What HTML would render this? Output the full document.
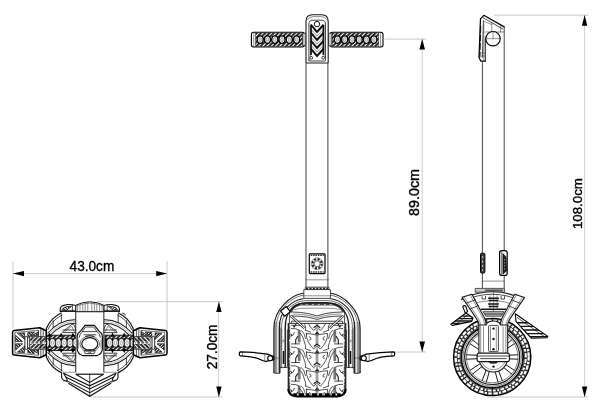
<!DOCTYPE html>
<html>
<head>
<meta charset="utf-8">
<title>Dimensions</title>
<style>
html,body{margin:0;padding:0;background:#fff;}
body{width:616px;height:412px;overflow:hidden;font-family:"Liberation Sans",sans-serif;}
svg{display:block;filter:grayscale(1);}
.dim{stroke:#bcbcbc;stroke-width:0.8;fill:none;}
.dimv{stroke:#b0b0b0;stroke-width:0.6;fill:none;}
.ah{fill:#000;stroke:none;}
.t{font-family:"Liberation Sans",sans-serif;fill:#000;stroke:#000;stroke-width:0.35;}
.l{stroke:#1a1a1a;stroke-width:0.8;fill:none;stroke-linejoin:round;stroke-linecap:round;}
.lt{stroke:#333;stroke-width:0.55;fill:none;stroke-linejoin:round;stroke-linecap:round;}
.lg{stroke:#777;stroke-width:0.6;fill:none;stroke-linejoin:round;stroke-linecap:round;}
.lw{stroke:#1a1a1a;stroke-width:0.8;fill:#fff;stroke-linejoin:round;}
.lf{stroke:#1a1a1a;stroke-width:0.7;fill:#c8c8c8;stroke-linejoin:round;}
.k{fill:#111;stroke:none;}
.kk{stroke:#111;fill:none;stroke-linejoin:miter;}
</style>
</head>
<body>
<svg width="616" height="412" viewBox="0 0 616 412">
<defs>
<pattern id="hx" width="3" height="3" patternUnits="userSpaceOnUse" patternTransform="rotate(45)">
<rect width="3" height="3" fill="#fff"/><rect width="1.9" height="3" fill="#222"/>
</pattern>
<pattern id="hy" width="2.2" height="2.2" patternUnits="userSpaceOnUse" patternTransform="rotate(-45)">
<rect width="2.2" height="2.2" fill="#fff"/><rect width="1.0" height="2.2" fill="#222"/>
</pattern>
<pattern id="hz" width="2.2" height="2.2" patternUnits="userSpaceOnUse" patternTransform="rotate(-45)">
<rect width="2.2" height="2.2" fill="#fff"/><rect width="1.3" height="2.2" fill="#111"/>
</pattern>
</defs>
<rect width="616" height="412" fill="#fff"/>
<!-- DIMENSIONS -->
<g id="dims">
  <!-- 43.0cm -->
  <path class="dim" d="M13 261.2V328 M167 261.2V330 M13 273.6H167"/>
  <path class="ah" d="M12.9 273.6L24 270.9V276.3Z M167.1 273.6L156.2 270.9V276.3Z"/>
  <text class="t" transform="translate(91.9 271.4) scale(0.94 1)" font-size="14.5" text-anchor="middle">43.0cm</text>
  <!-- 27.0cm -->
  <path class="dim" d="M97 301.6H222.5 M91 397H222.5"/><path class="dimv" d="M218.6 301.7V397"/>
  <path class="ah" d="M218.9 301.5L216.2 312H221.6Z M218.9 397.2L216.2 386.5H221.6Z"/>
  <text class="t" transform="translate(216.9 346.9) rotate(-90) scale(0.94 1)" font-size="14.5" text-anchor="middle">27.0cm</text>
  <!-- 89.0cm -->
  <path class="dim" d="M384.5 39.1H426 M395 352H426"/><path class="dimv" d="M422.2 39V352"/>
  <path class="ah" d="M422.2 38.9L419.4 49.6H425Z M422.2 352.2L419.4 341.4H425Z"/>
  <text class="t" transform="translate(418.8 192.5) rotate(-90)" font-size="14.3" text-anchor="middle">89.0cm</text>
  <!-- 108.0cm -->
  <path class="dim" d="M494 15.2H588.5 M487 397H588.5"/><path class="dimv" d="M584.6 15.2V397"/>
  <path class="ah" d="M584.6 15L581.9 25.8H587.3Z M584.6 397.2L581.9 386.5H587.3Z"/>
  <text class="t" transform="translate(582.4 203.6) rotate(-90)" font-size="13.3" text-anchor="middle">108.0cm</text>
</g>
<!-- FRONT VIEW -->
<g id="front">
<rect x="251.4" y="32.3" width="53.0" height="14.7" rx="2.2" fill="#fff" stroke="#000" stroke-width="1.1"/>
<path class="lt" d="M253.8 32.3V47.0"/>
<rect x="255.6" y="32.9" width="46.8" height="13.5" fill="url(#hx)" stroke="#222" stroke-width="0.5"/>
<ellipse cx="260.2" cy="39.6" rx="3.0" ry="3.8" fill="#fff" stroke="#000" stroke-width="1.3"/>
<ellipse cx="260.2" cy="39.6" rx="1.3" ry="2.0" fill="#ddd" stroke="#666" stroke-width="0.5"/>
<ellipse cx="267.5" cy="39.6" rx="3.0" ry="3.8" fill="#fff" stroke="#000" stroke-width="1.3"/>
<ellipse cx="267.5" cy="39.6" rx="1.3" ry="2.0" fill="#ddd" stroke="#666" stroke-width="0.5"/>
<ellipse cx="274.8" cy="39.6" rx="3.0" ry="3.8" fill="#fff" stroke="#000" stroke-width="1.3"/>
<ellipse cx="274.8" cy="39.6" rx="1.3" ry="2.0" fill="#ddd" stroke="#666" stroke-width="0.5"/>
<ellipse cx="282.0" cy="39.6" rx="3.0" ry="3.8" fill="#fff" stroke="#000" stroke-width="1.3"/>
<ellipse cx="282.0" cy="39.6" rx="1.3" ry="2.0" fill="#ddd" stroke="#666" stroke-width="0.5"/>
<ellipse cx="289.3" cy="39.6" rx="3.0" ry="3.8" fill="#fff" stroke="#000" stroke-width="1.3"/>
<ellipse cx="289.3" cy="39.6" rx="1.3" ry="2.0" fill="#ddd" stroke="#666" stroke-width="0.5"/>
<ellipse cx="296.6" cy="39.6" rx="3.0" ry="3.8" fill="#fff" stroke="#000" stroke-width="1.3"/>
<ellipse cx="296.6" cy="39.6" rx="1.3" ry="2.0" fill="#ddd" stroke="#666" stroke-width="0.5"/>
<rect x="330.0" y="32.3" width="53.0" height="14.7" rx="2.2" fill="#fff" stroke="#000" stroke-width="1.1"/>
<path class="lt" d="M380.6 32.3V47.0"/>
<rect x="332.0" y="32.9" width="46.8" height="13.5" fill="url(#hx)" stroke="#222" stroke-width="0.5"/>
<ellipse cx="337.4" cy="39.6" rx="3.0" ry="3.8" fill="#fff" stroke="#000" stroke-width="1.3"/>
<ellipse cx="337.4" cy="39.6" rx="1.3" ry="2.0" fill="#ddd" stroke="#666" stroke-width="0.5"/>
<ellipse cx="344.7" cy="39.6" rx="3.0" ry="3.8" fill="#fff" stroke="#000" stroke-width="1.3"/>
<ellipse cx="344.7" cy="39.6" rx="1.3" ry="2.0" fill="#ddd" stroke="#666" stroke-width="0.5"/>
<ellipse cx="352.0" cy="39.6" rx="3.0" ry="3.8" fill="#fff" stroke="#000" stroke-width="1.3"/>
<ellipse cx="352.0" cy="39.6" rx="1.3" ry="2.0" fill="#ddd" stroke="#666" stroke-width="0.5"/>
<ellipse cx="359.2" cy="39.6" rx="3.0" ry="3.8" fill="#fff" stroke="#000" stroke-width="1.3"/>
<ellipse cx="359.2" cy="39.6" rx="1.3" ry="2.0" fill="#ddd" stroke="#666" stroke-width="0.5"/>
<ellipse cx="366.5" cy="39.6" rx="3.0" ry="3.8" fill="#fff" stroke="#000" stroke-width="1.3"/>
<ellipse cx="366.5" cy="39.6" rx="1.3" ry="2.0" fill="#ddd" stroke="#666" stroke-width="0.5"/>
<ellipse cx="373.8" cy="39.6" rx="3.0" ry="3.8" fill="#fff" stroke="#000" stroke-width="1.3"/>
<ellipse cx="373.8" cy="39.6" rx="1.3" ry="2.0" fill="#ddd" stroke="#666" stroke-width="0.5"/>
<rect class="lf" x="302.6" y="33.2" width="3.6" height="12.4" rx="1"/>
<rect class="lf" x="328.2" y="33.2" width="3.6" height="12.4" rx="1"/>
<path class="lw" style="stroke-width:1.1" d="M306 62.4V21.5Q306 14.7 312.5 14.7H321.7Q328.2 14.7 328.2 21.5V62.4Q328.2 63 327.3 63H306.9Q306 63 306 62.4Z"/>
<path class="lt" d="M307.6 19.5Q309 16.6 313 16.6H321.4Q325.4 16.6 326.8 19.5"/>
<path class="l" d="M308.9 60.2V24Q308.9 20.2 313 20.2H321.4Q325.5 20.2 325.5 24V60.2Q325.5 61 324.6 61H309.8Q308.9 61 308.9 60.2Z"/>
<path class="lt" d="M310.4 25V56.5 M324 25V56.5"/>
<path class="k" d="M310.2 25.5H311.9V55H310.2Z M322.5 25.5H324.2V55H322.5Z"/>
<path class="kk" stroke-width="2.0" d="M310.8 24.7L317.0 31.9L323.6 24.7"/>
<path class="kk" stroke-width="2.0" d="M310.8 32.7L317.0 39.9L323.6 32.7"/>
<path class="kk" stroke-width="2.0" d="M310.8 40.7L317.0 47.9L323.6 40.7"/>
<path class="kk" stroke-width="2.0" d="M310.8 48.7L317.0 55.9L323.6 48.7"/>
<path class="lt" d="M311.6 29.8L317.0 36.0L322.8 29.8"/>
<path class="lt" d="M311.6 37.8L317.0 44.0L322.8 37.8"/>
<path class="lt" d="M311.6 45.8L317.0 52.0L322.8 45.8"/>
<circle cx="317.0" cy="24.1" r="2.7" fill="#fff" stroke="#111" stroke-width="1"/>
<circle cx="311.2" cy="57.8" r="1.4" fill="#fff" stroke="#111" stroke-width="0.8"/>
<circle cx="323.2" cy="57.8" r="1.4" fill="#fff" stroke="#111" stroke-width="0.8"/>
<path d="M306 63V287.2 M327.9 63V287.2" stroke="#2a2a2a" stroke-width="0.9" fill="none"/>
<path class="lt" d="M305.9 279.8H328.5"/>
<rect x="309.3" y="253.8" width="15.7" height="19.8" rx="0.8" fill="#fff" stroke="#000" stroke-width="1.2"/>
<path d="M310.6 255.4H323.8 M310.6 272H323.8" stroke="#333" stroke-width="1.3" stroke-dasharray="1.6 0.8"/>
<circle cx="317.1" cy="263.7" r="4.6" fill="none" stroke="#222" stroke-width="2.2" stroke-dasharray="2.1 1.5"/>
<circle cx="317.1" cy="263.7" r="5.9" fill="none" stroke="#333" stroke-width="0.5"/>
<circle cx="317.1" cy="263.7" r="3" fill="#fff" stroke="#222" stroke-width="0.7"/>
<path class="lw" d="M305.3 287.2H328.9V289.6H305.3Z"/>
<path d="M306 288.4H328.2" stroke="#222" stroke-width="1.2" stroke-dasharray="2.2 1.2"/>
<path class="lw" d="M303.8 289.6H330.4V298.4H303.8Z"/>
<path class="lt" d="M303.8 295.8H330.4"/>
<clipPath id="tc"><path d="M288.3 321V391Q290.3 396 297.3 397H336.7Q343.7 396 345.7 391V321Z"/></clipPath>
<path d="M288.3 321V391Q290.3 396 297.3 397H336.7Q343.7 396 345.7 391V321Z" fill="#fff" stroke="none"/>
<g clip-path="url(#tc)">
<g transform="translate(317.0 314.9)" fill="none" stroke="#1a1a1a" stroke-width="0.75" stroke-linejoin="round" stroke-linecap="round">
<path d="M-10.6 0Q-5 0.3 0 1.6Q5 0.3 10.6 0Q10.9 4 8.8 8.3Q7 12 3.4 15.5L0 12.6L-3.4 15.5Q-7 12 -8.8 8.3Q-10.9 4 -10.6 0Z"/>
<path d="M0 10.7L-2.9 12.7M0 10.7L2.9 12.7" stroke-width="1.2"/>
<path d="M-0.8 2V10.4 M0.8 2V10.4" stroke-width="0.6"/>
<path d="M0 -1.4L-1.6 0.4H1.6Z M0 -1.4V-4" fill="#111"/>
<g transform="scale(1 1)">
<path d="M-7.6 3.2q1.8 0.4 1.6 2.4q-0.3 1.2 -1.4 0.8"/>
<path d="M-17.6 -1C-14.2 1.5 -13.6 5.5 -12.6 8.6S-10.8 12.6 -11.6 15.2"/>
<path d="M-15.6 -3C-12.4 -0.5 -12.2 3 -11.6 5"/>
<path d="M-11.6 15.2Q-9 16.5 -6.4 17.2"/>
<path d="M-21.3 6.2L-19.4 3M-21.3 6.2V10.2" stroke-width="1.1"/>
<path d="M-25.6 10.4H-17.4 M-25.6 13.6Q-21 13.2 -17.4 15.4"/>
<path d="M-25.8 2.6Q-23 2 -22.6 -1"/>
<path d="M-17.8 15.6V27" stroke="#888" stroke-width="1.3"/>
<path d="M-18.7 15.6V27 M-16.9 15.6V27" stroke-width="0.6"/>
<circle cx="-26.4" cy="1.6" r="1.1" fill="#fff" stroke-width="0.7"/>
<path d="M-27.4 -6V24" stroke-width="0.6" stroke-dasharray="5 2"/>
</g>
<g transform="scale(-1 1)">
<path d="M-7.6 3.2q1.8 0.4 1.6 2.4q-0.3 1.2 -1.4 0.8"/>
<path d="M-17.6 -1C-14.2 1.5 -13.6 5.5 -12.6 8.6S-10.8 12.6 -11.6 15.2"/>
<path d="M-15.6 -3C-12.4 -0.5 -12.2 3 -11.6 5"/>
<path d="M-11.6 15.2Q-9 16.5 -6.4 17.2"/>
<path d="M-21.3 6.2L-19.4 3M-21.3 6.2V10.2" stroke-width="1.1"/>
<path d="M-25.6 10.4H-17.4 M-25.6 13.6Q-21 13.2 -17.4 15.4"/>
<path d="M-25.8 2.6Q-23 2 -22.6 -1"/>
<path d="M-17.8 15.6V27" stroke="#888" stroke-width="1.3"/>
<path d="M-18.7 15.6V27 M-16.9 15.6V27" stroke-width="0.6"/>
<circle cx="-26.4" cy="1.6" r="1.1" fill="#fff" stroke-width="0.7"/>
<path d="M-27.4 -6V24" stroke-width="0.6" stroke-dasharray="5 2"/>
</g>
</g>
<g transform="translate(317.0 333.5)" fill="none" stroke="#1a1a1a" stroke-width="0.75" stroke-linejoin="round" stroke-linecap="round">
<path d="M-10.6 0Q-5 0.3 0 1.6Q5 0.3 10.6 0Q10.9 4 8.8 8.3Q7 12 3.4 15.5L0 12.6L-3.4 15.5Q-7 12 -8.8 8.3Q-10.9 4 -10.6 0Z"/>
<path d="M0 10.7L-2.9 12.7M0 10.7L2.9 12.7" stroke-width="1.2"/>
<path d="M-0.8 2V10.4 M0.8 2V10.4" stroke-width="0.6"/>
<path d="M0 -1.4L-1.6 0.4H1.6Z M0 -1.4V-4" fill="#111"/>
<g transform="scale(1 1)">
<path d="M-7.6 3.2q1.8 0.4 1.6 2.4q-0.3 1.2 -1.4 0.8"/>
<path d="M-17.6 -1C-14.2 1.5 -13.6 5.5 -12.6 8.6S-10.8 12.6 -11.6 15.2"/>
<path d="M-15.6 -3C-12.4 -0.5 -12.2 3 -11.6 5"/>
<path d="M-11.6 15.2Q-9 16.5 -6.4 17.2"/>
<path d="M-21.3 6.2L-19.4 3M-21.3 6.2V10.2" stroke-width="1.1"/>
<path d="M-25.6 10.4H-17.4 M-25.6 13.6Q-21 13.2 -17.4 15.4"/>
<path d="M-25.8 2.6Q-23 2 -22.6 -1"/>
<path d="M-17.8 15.6V27" stroke="#888" stroke-width="1.3"/>
<path d="M-18.7 15.6V27 M-16.9 15.6V27" stroke-width="0.6"/>
<circle cx="-26.4" cy="1.6" r="1.1" fill="#fff" stroke-width="0.7"/>
<path d="M-27.4 -6V24" stroke-width="0.6" stroke-dasharray="5 2"/>
</g>
<g transform="scale(-1 1)">
<path d="M-7.6 3.2q1.8 0.4 1.6 2.4q-0.3 1.2 -1.4 0.8"/>
<path d="M-17.6 -1C-14.2 1.5 -13.6 5.5 -12.6 8.6S-10.8 12.6 -11.6 15.2"/>
<path d="M-15.6 -3C-12.4 -0.5 -12.2 3 -11.6 5"/>
<path d="M-11.6 15.2Q-9 16.5 -6.4 17.2"/>
<path d="M-21.3 6.2L-19.4 3M-21.3 6.2V10.2" stroke-width="1.1"/>
<path d="M-25.6 10.4H-17.4 M-25.6 13.6Q-21 13.2 -17.4 15.4"/>
<path d="M-25.8 2.6Q-23 2 -22.6 -1"/>
<path d="M-17.8 15.6V27" stroke="#888" stroke-width="1.3"/>
<path d="M-18.7 15.6V27 M-16.9 15.6V27" stroke-width="0.6"/>
<circle cx="-26.4" cy="1.6" r="1.1" fill="#fff" stroke-width="0.7"/>
<path d="M-27.4 -6V24" stroke-width="0.6" stroke-dasharray="5 2"/>
</g>
</g>
<g transform="translate(317.0 352.1)" fill="none" stroke="#1a1a1a" stroke-width="0.75" stroke-linejoin="round" stroke-linecap="round">
<path d="M-10.6 0Q-5 0.3 0 1.6Q5 0.3 10.6 0Q10.9 4 8.8 8.3Q7 12 3.4 15.5L0 12.6L-3.4 15.5Q-7 12 -8.8 8.3Q-10.9 4 -10.6 0Z"/>
<path d="M0 10.7L-2.9 12.7M0 10.7L2.9 12.7" stroke-width="1.2"/>
<path d="M-0.8 2V10.4 M0.8 2V10.4" stroke-width="0.6"/>
<path d="M0 -1.4L-1.6 0.4H1.6Z M0 -1.4V-4" fill="#111"/>
<g transform="scale(1 1)">
<path d="M-7.6 3.2q1.8 0.4 1.6 2.4q-0.3 1.2 -1.4 0.8"/>
<path d="M-17.6 -1C-14.2 1.5 -13.6 5.5 -12.6 8.6S-10.8 12.6 -11.6 15.2"/>
<path d="M-15.6 -3C-12.4 -0.5 -12.2 3 -11.6 5"/>
<path d="M-11.6 15.2Q-9 16.5 -6.4 17.2"/>
<path d="M-21.3 6.2L-19.4 3M-21.3 6.2V10.2" stroke-width="1.1"/>
<path d="M-25.6 10.4H-17.4 M-25.6 13.6Q-21 13.2 -17.4 15.4"/>
<path d="M-25.8 2.6Q-23 2 -22.6 -1"/>
<path d="M-17.8 15.6V27" stroke="#888" stroke-width="1.3"/>
<path d="M-18.7 15.6V27 M-16.9 15.6V27" stroke-width="0.6"/>
<circle cx="-26.4" cy="1.6" r="1.1" fill="#fff" stroke-width="0.7"/>
<path d="M-27.4 -6V24" stroke-width="0.6" stroke-dasharray="5 2"/>
</g>
<g transform="scale(-1 1)">
<path d="M-7.6 3.2q1.8 0.4 1.6 2.4q-0.3 1.2 -1.4 0.8"/>
<path d="M-17.6 -1C-14.2 1.5 -13.6 5.5 -12.6 8.6S-10.8 12.6 -11.6 15.2"/>
<path d="M-15.6 -3C-12.4 -0.5 -12.2 3 -11.6 5"/>
<path d="M-11.6 15.2Q-9 16.5 -6.4 17.2"/>
<path d="M-21.3 6.2L-19.4 3M-21.3 6.2V10.2" stroke-width="1.1"/>
<path d="M-25.6 10.4H-17.4 M-25.6 13.6Q-21 13.2 -17.4 15.4"/>
<path d="M-25.8 2.6Q-23 2 -22.6 -1"/>
<path d="M-17.8 15.6V27" stroke="#888" stroke-width="1.3"/>
<path d="M-18.7 15.6V27 M-16.9 15.6V27" stroke-width="0.6"/>
<circle cx="-26.4" cy="1.6" r="1.1" fill="#fff" stroke-width="0.7"/>
<path d="M-27.4 -6V24" stroke-width="0.6" stroke-dasharray="5 2"/>
</g>
</g>
<g transform="translate(317.0 370.7)" fill="none" stroke="#1a1a1a" stroke-width="0.75" stroke-linejoin="round" stroke-linecap="round">
<path d="M-10.6 0Q-5 0.3 0 1.6Q5 0.3 10.6 0Q10.9 4 8.8 8.3Q7 12 3.4 15.5L0 12.6L-3.4 15.5Q-7 12 -8.8 8.3Q-10.9 4 -10.6 0Z"/>
<path d="M0 10.7L-2.9 12.7M0 10.7L2.9 12.7" stroke-width="1.2"/>
<path d="M-0.8 2V10.4 M0.8 2V10.4" stroke-width="0.6"/>
<path d="M0 -1.4L-1.6 0.4H1.6Z M0 -1.4V-4" fill="#111"/>
<g transform="scale(1 1)">
<path d="M-7.6 3.2q1.8 0.4 1.6 2.4q-0.3 1.2 -1.4 0.8"/>
<path d="M-17.6 -1C-14.2 1.5 -13.6 5.5 -12.6 8.6S-10.8 12.6 -11.6 15.2"/>
<path d="M-15.6 -3C-12.4 -0.5 -12.2 3 -11.6 5"/>
<path d="M-11.6 15.2Q-9 16.5 -6.4 17.2"/>
<path d="M-21.3 6.2L-19.4 3M-21.3 6.2V10.2" stroke-width="1.1"/>
<path d="M-25.6 10.4H-17.4 M-25.6 13.6Q-21 13.2 -17.4 15.4"/>
<path d="M-25.8 2.6Q-23 2 -22.6 -1"/>
<path d="M-17.8 15.6V27" stroke="#888" stroke-width="1.3"/>
<path d="M-18.7 15.6V27 M-16.9 15.6V27" stroke-width="0.6"/>
<circle cx="-26.4" cy="1.6" r="1.1" fill="#fff" stroke-width="0.7"/>
<path d="M-27.4 -6V24" stroke-width="0.6" stroke-dasharray="5 2"/>
</g>
<g transform="scale(-1 1)">
<path d="M-7.6 3.2q1.8 0.4 1.6 2.4q-0.3 1.2 -1.4 0.8"/>
<path d="M-17.6 -1C-14.2 1.5 -13.6 5.5 -12.6 8.6S-10.8 12.6 -11.6 15.2"/>
<path d="M-15.6 -3C-12.4 -0.5 -12.2 3 -11.6 5"/>
<path d="M-11.6 15.2Q-9 16.5 -6.4 17.2"/>
<path d="M-21.3 6.2L-19.4 3M-21.3 6.2V10.2" stroke-width="1.1"/>
<path d="M-25.6 10.4H-17.4 M-25.6 13.6Q-21 13.2 -17.4 15.4"/>
<path d="M-25.8 2.6Q-23 2 -22.6 -1"/>
<path d="M-17.8 15.6V27" stroke="#888" stroke-width="1.3"/>
<path d="M-18.7 15.6V27 M-16.9 15.6V27" stroke-width="0.6"/>
<circle cx="-26.4" cy="1.6" r="1.1" fill="#fff" stroke-width="0.7"/>
<path d="M-27.4 -6V24" stroke-width="0.6" stroke-dasharray="5 2"/>
</g>
</g>
<g transform="translate(317.0 389.3)" fill="none" stroke="#1a1a1a" stroke-width="0.75" stroke-linejoin="round" stroke-linecap="round">
<path d="M-10.6 0Q-5 0.3 0 1.6Q5 0.3 10.6 0Q10.9 4 8.8 8.3Q7 12 3.4 15.5L0 12.6L-3.4 15.5Q-7 12 -8.8 8.3Q-10.9 4 -10.6 0Z"/>
<path d="M0 10.7L-2.9 12.7M0 10.7L2.9 12.7" stroke-width="1.2"/>
<path d="M-0.8 2V10.4 M0.8 2V10.4" stroke-width="0.6"/>
<path d="M0 -1.4L-1.6 0.4H1.6Z M0 -1.4V-4" fill="#111"/>
<g transform="scale(1 1)">
<path d="M-7.6 3.2q1.8 0.4 1.6 2.4q-0.3 1.2 -1.4 0.8"/>
<path d="M-17.6 -1C-14.2 1.5 -13.6 5.5 -12.6 8.6S-10.8 12.6 -11.6 15.2"/>
<path d="M-15.6 -3C-12.4 -0.5 -12.2 3 -11.6 5"/>
<path d="M-11.6 15.2Q-9 16.5 -6.4 17.2"/>
<path d="M-21.3 6.2L-19.4 3M-21.3 6.2V10.2" stroke-width="1.1"/>
<path d="M-25.6 10.4H-17.4 M-25.6 13.6Q-21 13.2 -17.4 15.4"/>
<path d="M-25.8 2.6Q-23 2 -22.6 -1"/>
<path d="M-17.8 15.6V27" stroke="#888" stroke-width="1.3"/>
<path d="M-18.7 15.6V27 M-16.9 15.6V27" stroke-width="0.6"/>
<circle cx="-26.4" cy="1.6" r="1.1" fill="#fff" stroke-width="0.7"/>
<path d="M-27.4 -6V24" stroke-width="0.6" stroke-dasharray="5 2"/>
</g>
<g transform="scale(-1 1)">
<path d="M-7.6 3.2q1.8 0.4 1.6 2.4q-0.3 1.2 -1.4 0.8"/>
<path d="M-17.6 -1C-14.2 1.5 -13.6 5.5 -12.6 8.6S-10.8 12.6 -11.6 15.2"/>
<path d="M-15.6 -3C-12.4 -0.5 -12.2 3 -11.6 5"/>
<path d="M-11.6 15.2Q-9 16.5 -6.4 17.2"/>
<path d="M-21.3 6.2L-19.4 3M-21.3 6.2V10.2" stroke-width="1.1"/>
<path d="M-25.6 10.4H-17.4 M-25.6 13.6Q-21 13.2 -17.4 15.4"/>
<path d="M-25.8 2.6Q-23 2 -22.6 -1"/>
<path d="M-17.8 15.6V27" stroke="#888" stroke-width="1.3"/>
<path d="M-18.7 15.6V27 M-16.9 15.6V27" stroke-width="0.6"/>
<circle cx="-26.4" cy="1.6" r="1.1" fill="#fff" stroke-width="0.7"/>
<path d="M-27.4 -6V24" stroke-width="0.6" stroke-dasharray="5 2"/>
</g>
</g>
</g>
<path d="M288.3 323V390" fill="none" stroke="#111" stroke-width="1.2"/>
<path d="M345.7 323V390" fill="none" stroke="#111" stroke-width="1.2"/>
<path d="M288.3 389L288.90000000000003 392Q290.90000000000003 396 297.3 396.5H336.7Q343.09999999999997 396 345.09999999999997 392L345.7 389" fill="none" stroke="#000" stroke-width="2.2" stroke-linejoin="round"/>
<path d="M293.3 394.6H340.7" fill="none" stroke="#000" stroke-width="2.6" stroke-dasharray="3.4 2.4 5 2"/>
<path class="lw" d="M289.4 323.4V313C290 308 294 304.8 300 304.2H334C340 304.8 344 308 344.6 313V323.4Z"/>
<path d="M290.6 312.4Q292.4 305.6 300.4 304.2H333.6Q341.6 305.6 343.4 312.4" fill="none" stroke="#4a4a4a" stroke-width="2.6"/>
<path d="M300 304.4H334" fill="none" stroke="#ddd" stroke-width="0.9" stroke-dasharray="1.6 4.4"/>
<path class="lt" d="M294.6 309.6Q299 308 306 308.2H328Q335 308 339.4 309.6"/>
<path class="l" d="M292.6 312Q300 312 308.6 313.6L317 315.9L325.4 313.6Q334 312 341.4 312"/>
<path class="l" d="M292 316Q300 316 308.4 317.2L317 319.4L325.6 317.2Q334 316 342 316"/>
<path class="lt" d="M293 314Q300 314 308.5 315.4L317 317.6L325.5 315.4Q334 314 341 314"/>
<path class="lw" d="M291.4 321.2H342.6V323.4H291.4Z"/>
<path d="M290.6 315.6L304.4 328.2 M343.4 315.6L329.6 328.2" fill="none" stroke="#111" stroke-width="2.4"/>
<path d="M290.6 315.6L304.4 328.2 M343.4 315.6L329.6 328.2" fill="none" stroke="#fff" stroke-width="1.1"/>
<circle cx="294.2" cy="326.5" r="1.1" fill="#111"/><circle cx="339.8" cy="326.5" r="1.1" fill="#111"/>
<g>
<path d="M274 373.3V322H280.4V373.3Z" fill="#e2e2e2" stroke="none"/>
<path d="M274.2 373V322H275.8V373Z M279 373V322H280.4V373Z" fill="#aaa" stroke="none"/>
<path class="l" style="stroke-width:1.15" d="M303.0 293.3C291.0 295.0 273.9 309.5 273.9 328V372.6"/>
<path class="l" d="M273.9 372Q273.9 373.3 275 373.3H279Q280 373.3 280 372V328"/>
<path class="lt" style="stroke-width:0.7" d="M303.0 295.3C291.8 296.8 276.1 309.6 276.1 328V373"/>
<path class="l" style="stroke-width:1.15" d="M303.0 298.7C292.9 299.9 279.3 309.8 279.3 328V373"/>
<path class="lt" style="stroke-width:0.7" d="M317.0 300.6H305.7C293.8 301.5 281.6 309.9 281.6 328V368"/>
<path class="l" style="stroke-width:1.4" d="M317.0 302.8H307.0C295.1 303.4 285.2 310.1 285.2 328V367.4"/>
<path class="l" d="M280 367.4H287.4V330"/>
<path class="k" d="M282.7 351H284.3V364H282.7Z"/>
<path class="lt" d="M281.8 330V350" stroke-dasharray="1.5 1.5"/>
<circle cx="283.6" cy="341" r="0.9" fill="#fff" stroke="#222" stroke-width="0.5"/>
<path class="lw" d="M240.4 351.9Q239.4 352 239.4 353V354.8Q239.4 355.8 240.4 355.8C248 356 256 357 262 360.2Q264.5 361.5 267 361.2L273.8 359.6V356.6L267.5 354.2C260 353 250 352 240.4 351.9Z" style="stroke-width:1.25;stroke:#000"/>
<path class="lt" d="M242.4 352V355.8 M264.8 354.2V361"/>
<circle cx="270.2" cy="358.2" r="2.5" fill="#fff" stroke="#000" stroke-width="1.1"/>
<path class="lt" d="M272.5 358H280.6"/>
</g>
<g transform="translate(634.0 0) scale(-1 1)">
<path d="M274 373.3V322H280.4V373.3Z" fill="#e2e2e2" stroke="none"/>
<path d="M274.2 373V322H275.8V373Z M279 373V322H280.4V373Z" fill="#aaa" stroke="none"/>
<path class="l" style="stroke-width:1.15" d="M303.0 293.3C291.0 295.0 273.9 309.5 273.9 328V372.6"/>
<path class="l" d="M273.9 372Q273.9 373.3 275 373.3H279Q280 373.3 280 372V328"/>
<path class="lt" style="stroke-width:0.7" d="M303.0 295.3C291.8 296.8 276.1 309.6 276.1 328V373"/>
<path class="l" style="stroke-width:1.15" d="M303.0 298.7C292.9 299.9 279.3 309.8 279.3 328V373"/>
<path class="lt" style="stroke-width:0.7" d="M317.0 300.6H305.7C293.8 301.5 281.6 309.9 281.6 328V368"/>
<path class="l" style="stroke-width:1.4" d="M317.0 302.8H307.0C295.1 303.4 285.2 310.1 285.2 328V367.4"/>
<path class="l" d="M280 367.4H287.4V330"/>
<path class="k" d="M282.7 351H284.3V364H282.7Z"/>
<path class="lt" d="M281.8 330V350" stroke-dasharray="1.5 1.5"/>
<circle cx="283.6" cy="341" r="0.9" fill="#fff" stroke="#222" stroke-width="0.5"/>
<path class="lw" d="M240.4 351.9Q239.4 352 239.4 353V354.8Q239.4 355.8 240.4 355.8C248 356 256 357 262 360.2Q264.5 361.5 267 361.2L273.8 359.6V356.6L267.5 354.2C260 353 250 352 240.4 351.9Z" style="stroke-width:1.25;stroke:#000"/>
<path class="lt" d="M242.4 352V355.8 M264.8 354.2V361"/>
<circle cx="270.2" cy="358.2" r="2.5" fill="#fff" stroke="#000" stroke-width="1.1"/>
<path class="lt" d="M272.5 358H280.6"/>
</g>
<path d="M280.6 311L286.4 306.6L290.4 311.8L284.6 316.2Z" fill="#fff" stroke="#000" stroke-width="1.2" stroke-linejoin="round"/>
</g>
<!-- SIDE VIEW -->
<g id="side">
<path class="l" d="M485.3 61.2H480.9L479 57.5L480.5 18.9L483.8 15.3L504.2 26.9" style="stroke-width:1.25;stroke:#000"/>
<path class="l" d="M504.2 26.9V288"/>
<path class="l" d="M482.4 61.2V288"/>
<path class="l" d="M483.2 17.8L502.6 28.8 M483.4 20.5L482.4 57.5"/>
<path class="l" d="M485.3 61.2V40Q485.3 35.8 489 35.6" style="stroke-width:1"/>
<path class="lt" d="M483.8 24V60 M491.8 22.5V31.6 M500.6 26.4V32 M485.3 32H504.2 M484 21.5L491.8 24.5"/>
<path d="M480.6 26L479.8 57" stroke="#111" stroke-width="1.3" stroke-dasharray="7 1.5" fill="none"/>
<path class="lt" d="M480.9 53H485.3 M480.9 56H485.3"/>
<circle cx="493" cy="38.7" r="7.2" fill="#fff" stroke="#000" stroke-width="1.1"/>
<path class="lt" d="M485.7 38.7H500.3 M493 31.4V38.7"/>
<rect x="480.5" y="253.2" width="4.4" height="19.8" rx="1.2" fill="#3a3a3a" stroke="#000" stroke-width="1"/>
<path d="M482.7 256V271" stroke="#eee" stroke-width="0.8" stroke-dasharray="2.4 2"/>
<rect x="499.6" y="250.6" width="7.6" height="24.8" rx="2.2" fill="#fff" stroke="#000" stroke-width="1.2"/>
<path class="l" d="M501.8 252V274"/>
<path d="M503 253.6L506 257L506.6 271L503 274Z" fill="#222" stroke="#000" stroke-width="0.6"/>
<path d="M504.6 259V269.6" stroke="#ddd" stroke-width="0.6" stroke-dasharray="1.5 1.5"/>
<path class="lt" d="M482.4 281.1H504.2"/>
<path class="lf" d="M475.2 288.4H504.6V292.2H475.2Z"/>
<path d="M485 290.3H503" stroke="#555" stroke-width="1.6"/>
<circle cx="492.2" cy="357.0" r="38.6" fill="#fff" stroke="#000" stroke-width="1.5"/>
<circle cx="492.2" cy="357.0" r="35" fill="none" stroke="#2a2a2a" stroke-width="6"/>
<circle cx="492.2" cy="357.0" r="36.5" fill="none" stroke="#fff" stroke-width="2.2" stroke-dasharray="3.6 1.4 2.2 1.2 4.4 1.6"/>
<circle cx="492.2" cy="357.0" r="33.6" fill="none" stroke="#fff" stroke-width="2" stroke-dasharray="2.6 1.5 4 1.3 1.8 1.6" stroke-dashoffset="2"/>
<circle cx="492.2" cy="357.0" r="31" fill="#fff" stroke="#111" stroke-width="1.9"/>
<circle cx="492.2" cy="357.0" r="29.2" fill="none" stroke="#555" stroke-width="0.8"/>
<circle cx="492.2" cy="357.0" r="27.5" fill="none" stroke="#111" stroke-width="1.2"/>
<circle cx="492.2" cy="357.0" r="25.8" fill="none" stroke="#333" stroke-width="0.6"/>
<path class="l" style="stroke-width:1" d="M501.2 355.5L517.8 354.8"/>
<path class="l" style="stroke-width:1" d="M501.2 358.5L517.8 359.2"/>
<path class="l" style="stroke-width:1" d="M500.4 361.1L514.2 370.2"/>
<path class="l" style="stroke-width:1" d="M498.6 363.5L511.6 373.9"/>
<path class="l" style="stroke-width:1" d="M496.4 365.1L502.3 380.7"/>
<path class="l" style="stroke-width:1" d="M493.6 366.0L498.0 382.0"/>
<path class="l" style="stroke-width:1" d="M490.8 366.0L486.4 382.0"/>
<path class="l" style="stroke-width:1" d="M488.0 365.1L482.1 380.7"/>
<path class="l" style="stroke-width:1" d="M485.8 363.5L472.8 373.9"/>
<path class="l" style="stroke-width:1" d="M484.0 361.1L470.2 370.2"/>
<path class="l" style="stroke-width:1" d="M483.2 358.5L466.6 359.2"/>
<path class="l" style="stroke-width:1" d="M483.2 355.5L466.6 354.8"/>
<path class="l" style="stroke-width:1" d="M484.0 352.9L470.2 343.8"/>
<path class="l" style="stroke-width:1" d="M485.8 350.5L472.8 340.1"/>
<path class="l" style="stroke-width:1" d="M488.0 348.9L482.1 333.3"/>
<path class="l" style="stroke-width:1" d="M490.8 348.0L486.4 332.0"/>
<path class="l" style="stroke-width:1" d="M493.6 348.0L498.0 332.0"/>
<path class="l" style="stroke-width:1" d="M496.4 348.9L502.3 333.3"/>
<path class="l" style="stroke-width:1" d="M498.6 350.5L511.6 340.1"/>
<path class="l" style="stroke-width:1" d="M500.4 352.9L514.2 343.8"/>
<circle cx="492.2" cy="357.0" r="9.5" fill="#fff" stroke="#222" stroke-width="0.8"/>
<circle cx="492.2" cy="357.0" r="12" fill="none" stroke="#333" stroke-width="0.6"/>
<path d="M462.5 298.7A65.4 65.4 0 0 1 521.9 298.7L510.4 321.4A40 40 0 0 0 474.0 321.4Z" fill="#fff" stroke="none"/>
<path class="l" style="stroke-width:1.2" d="M461.6 299.4A65.2 65.2 0 0 1 522.8 299.4"/>
<path class="l"  d="M463.7 301.0A62.8 62.8 0 0 1 520.7 301.0"/>
<path class="lt"  d="M467.4 306.1A56.6 56.6 0 0 1 517.0 306.1"/>
<g transform="translate(0.5 0)">
<path class="l" d="M481.6 296.6V299H485V296.4 M500.6 296.4V299H504V296.6"/>
<path d="M487.6 298.2H498.4 M488.2 300.6H497.8 M487.6 304H498.4 M488.2 306.4H497.8" stroke="#111" stroke-width="1.5" fill="none"/>
<path class="lt" d="M489.4 296V309 M496.6 296V309 M492.9 291.5V316"/>
<path d="M480.2 309.3H505.6" stroke="#111" stroke-width="1.5"/>
<path class="lw" d="M482.6 311.7H503.6L500.8 316.2H485.4Z"/>
<path d="M483.6 313.2H502.6 M484.6 314.8H501.6" stroke="#222" stroke-width="0.9"/>
</g>
<path d="M450.8 324.2L466 313L473 318L471.6 321.4L452.4 325.4Z" fill="#fff" stroke="#000" stroke-width="1.2" stroke-linejoin="round"/>
<clipPath id="fl"><path d="M450.8 324.2L466 313L473 318L471.6 321.4L452.4 325.4Z"/></clipPath>
<g clip-path="url(#fl)"><path d="M448 323.4H476 M448 321H476 M448 318.6H476 M448 316.2H476" stroke="#111" stroke-width="1.3" fill="none"/><path d="M455 326L468 314" stroke="#111" stroke-width="0.8"/></g>
<path d="M462.8 306.6Q464 305 465.6 306L467.6 311.4Q466.6 313 465 312.4Z" fill="#fff" stroke="#000" stroke-width="1.1" stroke-linejoin="round"/>
<path d="M515.3 313.8L547.8 336.4L547 337.8L531.4 338.2L521.8 328L516 321.3Z" fill="#fff" stroke="#000" stroke-width="1.1" stroke-linejoin="round"/>
<clipPath id="fr"><path d="M515.3 313.8L547.8 336.4L547 337.8L531.4 338.2L521.8 328L516 321.3Z"/></clipPath>
<g clip-path="url(#fr)"><path d="M510 322.8H550 M510 326.4H550 M510 330H550 M510 333.6H550 M510 336.8H550" stroke="#111" stroke-width="1.4" fill="none"/><path d="M517 317.4L545 337" stroke="#111" stroke-width="0.7" fill="none"/></g>
<g transform="translate(0.5 0)">
<path class="lw" style="stroke-width:1.1" d="M461.6 297.2L471.4 294.2L484 318Q485.6 321.4 485.6 325V330H478.6V326Q478.4 322 476 318.6Z"/>
<path class="lw" style="stroke-width:1.1" d="M524 297.6L514.2 294.2L501.6 318Q500 321.4 500 325V330H507V326Q507.2 322 509.6 318.6Z"/>
<path class="lt" d="M463.4 296.8L477.6 318Q480 321.6 480.2 326 M469.6 294.8L482.6 318.6Q484 321.6 484 325"/>
<path class="lt" d="M522.2 297L508 318Q505.6 321.6 505.4 326 M516 294.8L503 318.6Q501.6 321.6 501.6 325"/>
<path class="l" d="M465.6 303.2L475 299.8 M469.4 309L478.2 305.6 M520 303.4L510.6 299.8 M516.2 309.2L507.4 305.6"/>
<path class="lw" style="stroke-width:1.1" d="M478.4 325V357.6A14.4 14.4 0 0 0 507.2 357.6V325H500Q498.5 321 492.8 321Q487 321 485.6 325Z"/>
<path class="lt" d="M480.2 326V357.2A12.6 12.6 0 0 0 505.4 357.2V326"/>
<path class="lt" d="M483 327V352 M502.6 327V352"/>
<rect class="lw" x="488.1" y="325.4" width="9.8" height="26.2" rx="1"/>
<path class="lt" d="M490 327V350.5 M495.8 327V350.5"/>
<circle cx="493" cy="328.6" r="1.2" fill="#111"/>
<circle cx="493" cy="339" r="1.2" fill="#111"/>
<circle cx="493" cy="349.2" r="1.2" fill="#111"/>
<circle cx="493" cy="366.6" r="1.2" fill="#111"/>
<path class="lw" style="stroke-width:1.2" d="M478.6 353.2H507Q509 353.2 509 355.2V359.6Q509 361.6 507 361.6H478.6Q476.6 361.6 476.6 359.6V355.2Q476.6 353.2 478.6 353.2Z"/>
<path class="l" d="M476.6 356H509 M480 358.6H505.6"/>
<path class="l" d="M487.6 361.6Q492.8 365 498 361.6"/>
<path d="M489.4 362.8H496.2" stroke="#111" stroke-width="1.2"/>
</g>
</g>
<!-- TOP VIEW -->
<g id="top">
<path d="M60.2 311.8V308.6Q60.6 306.4 63 305.6L67.4 304.5Q72 304.2 75.8 305.4V311.8Z" fill="#fff" stroke="#111" stroke-width="1.1" stroke-linejoin="round"/>
<path d="M62.2 309.6Q63 307.4 66 306.8L71.6 306.2L66.4 310.4Z" fill="url(#hy)" stroke="#111" stroke-width="0.8" stroke-linejoin="round"/>
<path class="l" d="M72.4 305V311.6 M61 310.4H75.6"/>
<g transform="translate(179.6 0) scale(-1 1)">
<path d="M60.2 311.8V308.6Q60.6 306.4 63 305.6L67.4 304.5Q72 304.2 75.8 305.4V311.8Z" fill="#fff" stroke="#111" stroke-width="1.1" stroke-linejoin="round"/>
<path d="M62.2 309.6Q63 307.4 66 306.8L71.6 306.2L66.4 310.4Z" fill="url(#hy)" stroke="#111" stroke-width="0.8" stroke-linejoin="round"/>
<path class="l" d="M72.4 305V311.6 M61 310.4H75.6"/>
</g>
<path d="M75.8 311.8V305.2Q82 302 89.8 301.8Q97.6 302 103.8 305.2V311.8Z" fill="#fff" stroke="#111" stroke-width="1" stroke-linejoin="round"/>
<path class="lt" d="M77 305.8Q83 303.4 89.8 303.2Q96.6 303.4 102.6 305.8"/>
<path class="lt" d="M77.6 305.0V311.4"/>
<path class="lt" d="M80 304.6V311.4"/>
<path class="lt" d="M82.8 304.0V311.4"/>
<path class="lt" d="M85.2 303.5V311.4"/>
<path class="lt" d="M87.8 303.0V311.4"/>
<path class="lt" d="M91.8 303.0V311.4"/>
<path class="lt" d="M94.4 303.5V311.4"/>
<path class="lt" d="M96.8 304.0V311.4"/>
<path class="lt" d="M99.6 304.6V311.4"/>
<path class="lt" d="M102 305.0V311.4"/>
<path d="M60 312H119.6" stroke="#111" stroke-width="1.3"/>
<path class="lw" d="M120.6 313.8Q123.2 312.2 125 314.2V318H120.6Z"/>
<path class="lt" d="M121.6 315H124V317H121.6Z"/>
<path d="M75.9 312H60.4C53 316 47.5 321 46.4 328V357.6C47.5 364.6 53 369.6 60.4 373.6H75.9Z" fill="#fff" stroke="none"/>
<path d="M61.2 313C55 316 49.4 321.4 46.4 328.4V333" fill="none" stroke="#111" stroke-width="1.2" stroke-linecap="round"/>
<path class="l" d="M62 315.2C56.4 318 51 322.6 48 329.4"/>
<path class="l" d="M53.2 320.6V328 M61.4 314.6V323.4"/>
<path d="M75.9 321.6C67 321.2 57.6 325 48.8 334.4" fill="none" stroke="#111" stroke-width="4.4"/>
<path d="M75.9 321.6C67 321.2 57.6 325 48.8 334.4" fill="none" stroke="#fff" stroke-width="2.6"/>
<path d="M75.9 321.6C67 321.2 57.6 325 48.8 334.4" fill="none" stroke="#777" stroke-width="0.5"/>
<path class="l" d="M62.6 332L71.6 324.6Q73 324 74 325L76 329.6"/>
<path class="lt" d="M64.6 332L71.8 326.2L74.4 332"/>
<g transform="translate(0 685.6) scale(1 -1)"><path d="M61.2 313C55 316 49.4 321.4 46.4 328.4V333" fill="none" stroke="#111" stroke-width="1.2" stroke-linecap="round"/>
<path class="l" d="M62 315.2C56.4 318 51 322.6 48 329.4"/>
<path class="l" d="M53.2 320.6V328 M61.4 314.6V323.4"/>
<path d="M75.9 321.6C67 321.2 57.6 325 48.8 334.4" fill="none" stroke="#111" stroke-width="4.4"/>
<path d="M75.9 321.6C67 321.2 57.6 325 48.8 334.4" fill="none" stroke="#fff" stroke-width="2.6"/>
<path d="M75.9 321.6C67 321.2 57.6 325 48.8 334.4" fill="none" stroke="#777" stroke-width="0.5"/>
<path class="l" d="M62.6 332L71.6 324.6Q73 324 74 325L76 329.6"/>
<path class="lt" d="M64.6 332L71.8 326.2L74.4 332"/></g>
<path class="l" d="M61.6 372.4H75.9"/>
<path class="l" d="M75.9 311.8V374.2"/>
<path class="lt" d="M77.5 312V332 M77.5 352V373"/>
<g transform="translate(179.6 0) scale(-1 1)">
<path d="M75.9 312H60.4C53 316 47.5 321 46.4 328V357.6C47.5 364.6 53 369.6 60.4 373.6H75.9Z" fill="#fff" stroke="none"/>
<path d="M61.2 313C55 316 49.4 321.4 46.4 328.4V333" fill="none" stroke="#111" stroke-width="1.2" stroke-linecap="round"/>
<path class="l" d="M62 315.2C56.4 318 51 322.6 48 329.4"/>
<path class="l" d="M53.2 320.6V328 M61.4 314.6V323.4"/>
<path d="M75.9 321.6C67 321.2 57.6 325 48.8 334.4" fill="none" stroke="#111" stroke-width="4.4"/>
<path d="M75.9 321.6C67 321.2 57.6 325 48.8 334.4" fill="none" stroke="#fff" stroke-width="2.6"/>
<path d="M75.9 321.6C67 321.2 57.6 325 48.8 334.4" fill="none" stroke="#777" stroke-width="0.5"/>
<path class="l" d="M62.6 332L71.6 324.6Q73 324 74 325L76 329.6"/>
<path class="lt" d="M64.6 332L71.8 326.2L74.4 332"/>
<g transform="translate(0 685.6) scale(1 -1)"><path d="M61.2 313C55 316 49.4 321.4 46.4 328.4V333" fill="none" stroke="#111" stroke-width="1.2" stroke-linecap="round"/>
<path class="l" d="M62 315.2C56.4 318 51 322.6 48 329.4"/>
<path class="l" d="M53.2 320.6V328 M61.4 314.6V323.4"/>
<path d="M75.9 321.6C67 321.2 57.6 325 48.8 334.4" fill="none" stroke="#111" stroke-width="4.4"/>
<path d="M75.9 321.6C67 321.2 57.6 325 48.8 334.4" fill="none" stroke="#fff" stroke-width="2.6"/>
<path d="M75.9 321.6C67 321.2 57.6 325 48.8 334.4" fill="none" stroke="#777" stroke-width="0.5"/>
<path class="l" d="M62.6 332L71.6 324.6Q73 324 74 325L76 329.6"/>
<path class="lt" d="M64.6 332L71.8 326.2L74.4 332"/></g>
<path class="l" d="M61.6 372.4H75.9"/>
<path class="l" d="M75.9 311.8V374.2"/>
<path class="lt" d="M77.5 312V332 M77.5 352V373"/>
</g>
<path class="lw" d="M75.8 311.8H103.8V374.2H75.8Z"/>
<path d="M61.6 372.6L64 379.4L68.4 383.3L89.7 396.3L111 383.3L115.4 379.4L117.8 372.6Z" fill="#fff" stroke="none"/>
<path d="M68.4 383.3L89.7 396.3L111 383.3 M66.7 380.6L89.7 392.6L112.7 380.6 M65.6 377L89.7 388.9L113.8 377 M63.6 373.2L89.7 385.8L115.8 373.2 M75.8 374.2L89.7 382.4L103.6 374.2" fill="none" stroke="#111" stroke-width="1.05" stroke-linejoin="miter"/>
<path class="l" d="M89.7 374.2V396.3"/>
<path d="M61.6 372.4V377.6Q62 379.4 64 380.4L66.6 381.2Q67.6 380.2 66.8 378.6L63.4 373" fill="#fff" stroke="#111" stroke-width="1.1" stroke-linejoin="round"/>
<path class="lt" d="M66.8 381.4Q67.2 382.6 68.4 383.3"/>
<g transform="translate(179.6 0) scale(-1 1)">
<path d="M61.6 372.4V377.6Q62 379.4 64 380.4L66.6 381.2Q67.6 380.2 66.8 378.6L63.4 373" fill="#fff" stroke="#111" stroke-width="1.1" stroke-linejoin="round"/>
<path class="lt" d="M66.8 381.4Q67.2 382.6 68.4 383.3"/>
</g>
<path d="M75.8 374.2H103.6" stroke="#111" stroke-width="1.2"/>
<clipPath id="b1"><rect x="44" y="331" width="31.9" height="23"/></clipPath>
<clipPath id="b2"><rect x="103.7" y="331" width="31.9" height="23"/></clipPath>
<g clip-path="url(#b1)"><rect x="44" y="335.2" width="30.6" height="15.4" fill="url(#hx)" stroke="#111" stroke-width="0.9"/>
<rect x="44" y="338.4" width="30.6" height="9" fill="#0a0a0a"/>
<ellipse cx="46.6" cy="342.9" rx="2.75" ry="4.1" fill="#fff" stroke="#000" stroke-width="0.5"/>
<ellipse cx="46.6" cy="342.9" rx="1.2" ry="1.9" fill="none" stroke="#555" stroke-width="0.5"/>
<path d="M47.5 336.8H51.5L49.5 332.6Z M47.5 349H51.5L49.5 353.2Z" fill="#000"/>
<ellipse cx="52.5" cy="342.9" rx="2.75" ry="4.1" fill="#fff" stroke="#000" stroke-width="0.5"/>
<ellipse cx="52.5" cy="342.9" rx="1.2" ry="1.9" fill="none" stroke="#555" stroke-width="0.5"/>
<ellipse cx="58.3" cy="342.9" rx="2.75" ry="4.1" fill="#fff" stroke="#000" stroke-width="0.5"/>
<ellipse cx="58.3" cy="342.9" rx="1.2" ry="1.9" fill="none" stroke="#555" stroke-width="0.5"/>
<path d="M59.2 336.8H63.2L61.2 332.6Z M59.2 349H63.2L61.2 353.2Z" fill="#000"/>
<ellipse cx="64.2" cy="342.9" rx="2.75" ry="4.1" fill="#fff" stroke="#000" stroke-width="0.5"/>
<ellipse cx="64.2" cy="342.9" rx="1.2" ry="1.9" fill="none" stroke="#555" stroke-width="0.5"/>
<ellipse cx="70.0" cy="342.9" rx="2.75" ry="4.1" fill="#fff" stroke="#000" stroke-width="0.5"/>
<ellipse cx="70.0" cy="342.9" rx="1.2" ry="1.9" fill="none" stroke="#555" stroke-width="0.5"/>
<path d="M70.9 336.8H74.9L72.9 332.6Z M70.9 349H74.9L72.9 353.2Z" fill="#000"/>
<ellipse cx="75.8" cy="342.9" rx="2.75" ry="4.1" fill="#fff" stroke="#000" stroke-width="0.5"/>
<ellipse cx="75.8" cy="342.9" rx="1.2" ry="1.9" fill="none" stroke="#555" stroke-width="0.5"/></g>
<g clip-path="url(#b2)"><rect x="105" y="335.2" width="30.6" height="15.4" fill="url(#hx)" stroke="#111" stroke-width="0.9"/>
<rect x="105" y="338.4" width="30.6" height="9" fill="#0a0a0a"/>
<ellipse cx="109.6" cy="342.9" rx="2.75" ry="4.1" fill="#fff" stroke="#000" stroke-width="0.5"/>
<ellipse cx="109.6" cy="342.9" rx="1.2" ry="1.9" fill="none" stroke="#555" stroke-width="0.5"/>
<path d="M110.5 336.8H114.5L112.5 332.6Z M110.5 349H114.5L112.5 353.2Z" fill="#000"/>
<ellipse cx="115.4" cy="342.9" rx="2.75" ry="4.1" fill="#fff" stroke="#000" stroke-width="0.5"/>
<ellipse cx="115.4" cy="342.9" rx="1.2" ry="1.9" fill="none" stroke="#555" stroke-width="0.5"/>
<ellipse cx="121.3" cy="342.9" rx="2.75" ry="4.1" fill="#fff" stroke="#000" stroke-width="0.5"/>
<ellipse cx="121.3" cy="342.9" rx="1.2" ry="1.9" fill="none" stroke="#555" stroke-width="0.5"/>
<path d="M122.2 336.8H126.2L124.2 332.6Z M122.2 349H126.2L124.2 353.2Z" fill="#000"/>
<ellipse cx="127.1" cy="342.9" rx="2.75" ry="4.1" fill="#fff" stroke="#000" stroke-width="0.5"/>
<ellipse cx="127.1" cy="342.9" rx="1.2" ry="1.9" fill="none" stroke="#555" stroke-width="0.5"/>
<ellipse cx="133.0" cy="342.9" rx="2.75" ry="4.1" fill="#fff" stroke="#000" stroke-width="0.5"/>
<ellipse cx="133.0" cy="342.9" rx="1.2" ry="1.9" fill="none" stroke="#555" stroke-width="0.5"/>
<path d="M133.9 336.8H137.9L135.9 332.6Z M133.9 349H137.9L135.9 353.2Z" fill="#000"/></g>
<path class="l" d="M63 330H75.8 M63 332.6H75.8 M63 353.2H75.8 M63 355.8H75.8 M103.8 330H116.6 M103.8 332.6H116.6 M103.8 353.2H116.6 M103.8 355.8H116.6"/>
<path d="M85 325.3H94.4L99 331.2Q102.4 333 102.4 337V349Q102 354 96.8 355.7H82.8Q77.6 354 77.2 349V337Q77.2 333 80.6 331.2Z" fill="#fff" stroke="#111" stroke-width="1.2" stroke-linejoin="round"/>
<path class="l" d="M86 327H93.6L97 331.6H82.6Z M82.6 331.6Q79.4 333.6 79.2 337.4 M97 331.6Q100.2 333.6 100.4 337.4"/>
<path class="l" d="M84 334.8H95.6 M85.4 336.4Q89.8 334.6 94.2 336.4"/>
<ellipse cx="89.8" cy="344" rx="8" ry="6.3" fill="#fff" stroke="#111" stroke-width="1.2"/>
<ellipse cx="89.8" cy="344" rx="9.8" ry="8" fill="none" stroke="#222" stroke-width="0.6"/>
<path class="l" d="M84.4 350.6Q89.8 348.4 95.2 350.6L94 353.6H85.6Z"/>
<path class="lt" d="M89.2 350V353.6 M90.4 350V353.6 M78.6 340V348 M101 340V348"/>
<path d="M14.2 330.5Q12.6 330.7 12.6 332.5V352.9Q12.6 354.7 14.2 354.9L39.8 357.8L46.2 354.8V330.8L39.8 327.8Z" fill="#fff" stroke="#000" stroke-width="1.5" stroke-linejoin="round"/>
<path d="M14.9 332.4L38.4 330.4V355.2L14.9 353Z" fill="none" stroke="#111" stroke-width="0.6"/>
<path d="M15.6 335.4V341.6H22.6Z M15.6 350V343.8H22.6Z" fill="url(#hz)" stroke="#111" stroke-width="0.7" stroke-linejoin="round"/>
<path d="M17.6 333.4L24.6 332.8V339.4Z M17.6 352L24.6 352.6V346Z" fill="url(#hz)" stroke="#111" stroke-width="0.7" stroke-linejoin="round"/>
<path d="M27.8 332.6L34.6 332L27.8 338Z M27.8 352.8L34.6 353.4L27.8 347.4Z" fill="url(#hz)" stroke="#111" stroke-width="0.7" stroke-linejoin="round"/>
<path d="M31 335.6L37.8 332.2V335.6Z M31 349.8L37.8 353.2V349.8Z" fill="url(#hz)" stroke="#111" stroke-width="0.7" stroke-linejoin="round"/>
<rect x="24.9" y="336.4" width="2.7" height="13" rx="1.2" fill="#fff" stroke="#111" stroke-width="0.9"/>
<path d="M29.6 336.6H45.2V349.2H29.6Z" fill="#fff" stroke="#111" stroke-width="0.8"/>
<path d="M30.2 337.2H45V348.6H30.2Z" fill="url(#hx)"/>
<path d="M31.2 342.9H44.6" stroke="#fff" stroke-width="2.4" stroke-linecap="round"/>
<path d="M31.2 342.9H44.6" stroke="#111" stroke-width="1" stroke-dasharray="3 1.2"/>
<path d="M38.4 330.4V336.4 M38.4 349.4V355.2 M40.8 328.4V357.2 M43.2 328.4V336.4 M43.2 349.4V357.2" stroke="#111" stroke-width="0.7" fill="none"/>
<g transform="translate(179.6 0) scale(-1 1)">
<path d="M14.2 330.5Q12.6 330.7 12.6 332.5V352.9Q12.6 354.7 14.2 354.9L39.8 357.8L46.2 354.8V330.8L39.8 327.8Z" fill="#fff" stroke="#000" stroke-width="1.5" stroke-linejoin="round"/>
<path d="M14.9 332.4L38.4 330.4V355.2L14.9 353Z" fill="none" stroke="#111" stroke-width="0.6"/>
<path d="M15.6 335.4V341.6H22.6Z M15.6 350V343.8H22.6Z" fill="url(#hz)" stroke="#111" stroke-width="0.7" stroke-linejoin="round"/>
<path d="M17.6 333.4L24.6 332.8V339.4Z M17.6 352L24.6 352.6V346Z" fill="url(#hz)" stroke="#111" stroke-width="0.7" stroke-linejoin="round"/>
<path d="M27.8 332.6L34.6 332L27.8 338Z M27.8 352.8L34.6 353.4L27.8 347.4Z" fill="url(#hz)" stroke="#111" stroke-width="0.7" stroke-linejoin="round"/>
<path d="M31 335.6L37.8 332.2V335.6Z M31 349.8L37.8 353.2V349.8Z" fill="url(#hz)" stroke="#111" stroke-width="0.7" stroke-linejoin="round"/>
<rect x="24.9" y="336.4" width="2.7" height="13" rx="1.2" fill="#fff" stroke="#111" stroke-width="0.9"/>
<path d="M29.6 336.6H45.2V349.2H29.6Z" fill="#fff" stroke="#111" stroke-width="0.8"/>
<path d="M30.2 337.2H45V348.6H30.2Z" fill="url(#hx)"/>
<path d="M31.2 342.9H44.6" stroke="#fff" stroke-width="2.4" stroke-linecap="round"/>
<path d="M31.2 342.9H44.6" stroke="#111" stroke-width="1" stroke-dasharray="3 1.2"/>
<path d="M38.4 330.4V336.4 M38.4 349.4V355.2 M40.8 328.4V357.2 M43.2 328.4V336.4 M43.2 349.4V357.2" stroke="#111" stroke-width="0.7" fill="none"/>
</g>
</g>
</svg>
</body>
</html>
